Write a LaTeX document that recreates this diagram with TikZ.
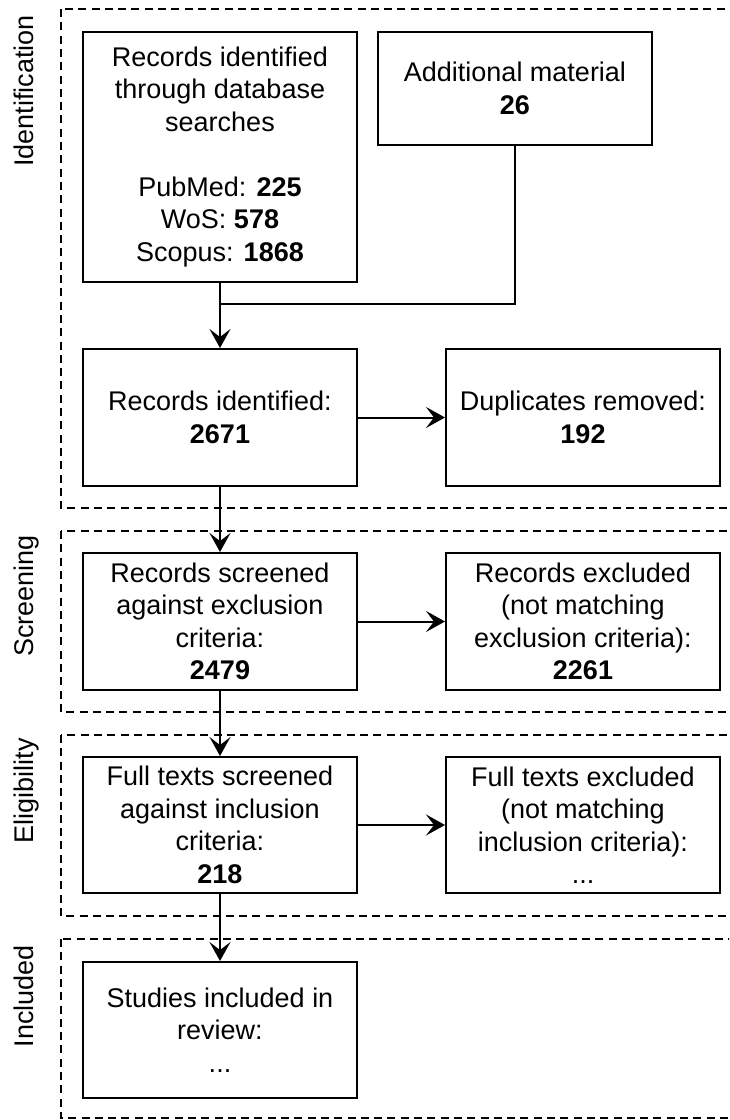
\documentclass[tikz,border=0pt]{standalone}
\usepackage{fontspec}
\setmainfont{Liberation Sans}
\usetikzlibrary{arrows.meta}
\begin{document}
\begin{tikzpicture}[x=1pt,y=-1pt,
  box/.style={draw, line width=2pt, align=center, inner sep=0pt, minimum width=274pt, font=\fontsize{27}{32.5}\selectfont, text=black},
  group/.style={draw, dash pattern=on 8pt off 5.3pt, line width=1.6pt},
  lbl/.style={rotate=90, anchor=base east, inner sep=0pt, font=\fontsize{27}{32.5}\selectfont},
  arr/.style={line width=2pt, -{Stealth[length=19pt,width=21pt,inset=8pt]}},
  conn/.style={line width=2pt}]
\useasboundingbox (0,0) rectangle (729,1120);
\clip (0,0) rectangle (729,1120);
% groups
\draw[group] (61,9) rectangle (745,508);
\draw[group] (61,531) rectangle (745,712);
\draw[group] (61,735) rectangle (745,916);
\draw[group] (61,939) rectangle (745,1118);
% labels
\node[lbl] (lid) at (34,15) {Identification};
\node[lbl] (lsc) at (34,535) {Screening};
\node[lbl] (lel) at (34,738) {Eligibility};
\node[lbl] (lin) at (34,945) {Included};
% boxes
\node[box, minimum height=250pt] (db) at (220,157) {Records identified\\through database\\searches\\[32.5pt]PubMed: \textbf{225}\\WoS: \textbf{578}\\Scopus: \textbf{1868}};
\node[box, minimum height=113pt] (add) at (515,88.5) {Additional material\\\textbf{26}};
\node[box, minimum height=137pt] (rid) at (220,417.5) {Records identified:\\\textbf{2671}};
\node[box, minimum height=137pt] (dup) at (583,417.5) {Duplicates removed:\\\textbf{192}};
\node[box, minimum height=137pt] (scr) at (220,621.5) {Records screened\\against exclusion\\criteria:\\\textbf{2479}};
\node[box, minimum height=137pt] (rex) at (583,621.5) {Records excluded\\(not matching\\exclusion criteria):\\\textbf{2261}};
\node[box, minimum height=136pt] (ft) at (220,825) {Full texts screened\\against inclusion\\criteria:\\\textbf{218}};
\node[box, minimum height=136pt] (fex) at (583,825) {Full texts excluded\\(not matching\\inclusion criteria):\\...};
\node[box, minimum height=136pt] (inc) at (220,1030) {Studies included in\\review:\\...};
% connectors
\coordinate (j) at (220,304);
\draw[conn] (add.south) |- (j);
\draw[arr] (db.south) -- (rid.north);
\draw[arr] (rid.east) -- (dup.west);
\draw[arr] (rid.south) -- (scr.north);
\draw[arr] (scr.east) -- (rex.west);
\draw[arr] (scr.south) -- (ft.north);
\draw[arr] (ft.east) -- (fex.west);
\draw[arr] (ft.south) -- (inc.north);
\end{tikzpicture}
\end{document}
